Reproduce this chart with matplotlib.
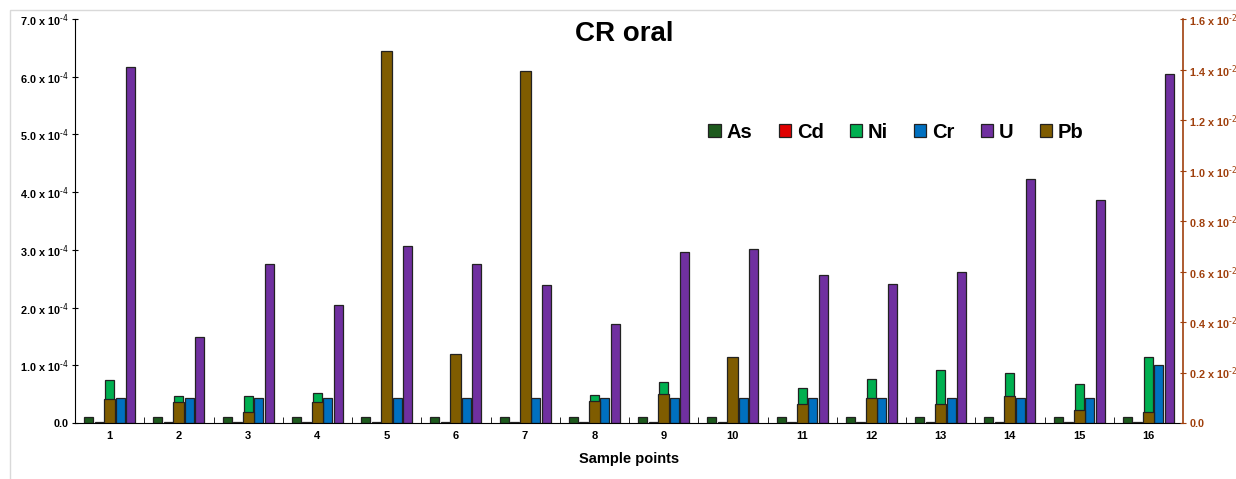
import numpy as np
import matplotlib
matplotlib.use("Agg")
import matplotlib.pyplot as plt
from matplotlib.patches import Rectangle

plt.rcParams['font.family'] = ['Liberation Sans', 'DejaVu Sans']
plt.rcParams['mathtext.default'] = 'regular'

#%%
# data (left axis for As..U, right axis for Pb)
samples = [str(i) for i in range(1, 17)]
As = [1.0e-5] * 16
Cd = [1.5e-6] * 16
Ni = [7.4e-5, 4.7e-5, 4.7e-5, 5.2e-5, 5.0e-5, 5.0e-5, 5.0e-5, 4.85e-5,
      7.1e-5, 5.0e-5, 6.0e-5, 7.6e-5, 9.2e-5, 8.7e-5, 6.8e-5, 1.14e-4]
Cr = [4.4e-5] * 15 + [1.0e-4]
U = [6.16e-4, 1.49e-4, 2.75e-4, 2.04e-4, 3.07e-4, 2.76e-4, 2.39e-4, 1.72e-4,
     2.97e-4, 3.02e-4, 2.57e-4, 2.41e-4, 2.62e-4, 4.23e-4, 3.87e-4, 6.05e-4]
Pb = [9.5e-4, 8.2e-4, 4.2e-4, 8.5e-4, 1.475e-2, 2.74e-3, 1.396e-2, 8.9e-4,
      1.15e-3, 2.61e-3, 7.5e-4, 1.0e-3, 7.5e-4, 1.06e-3, 5.2e-4, 4.4e-4]

left_ticks = [0, 1e-4, 2e-4, 3e-4, 4e-4, 5e-4, 6e-4, 7e-4]
left_labels = ['0.0'] + [r'%.1f x 10$^{\text{-4}}$' % v for v in range(1, 8)]
right_ticks = [0, 0.002, 0.004, 0.006, 0.008, 0.010, 0.012, 0.014, 0.016]
right_labels = ['0.0'] + [r'%.1f x 10$^{\text{-2}}$' % (v / 10) for v in range(2, 17, 2)]

colors = {'As': '#1d5a1d', 'Cd': '#e00000', 'Ni': '#00b050',
          'Cr': '#0070c0', 'U': '#7030a0', 'Pb': '#7f5c00'}
axis_brown = '#a0400d'

#%%
fig = plt.figure(figsize=(12.36, 4.79), dpi=100)
fig.patches.append(Rectangle((10 / 1236, -0.1), 1.1, 1.1 - 10 / 479,
                             transform=fig.transFigure, fill=False,
                             edgecolor='#d9d9d9', linewidth=1))
ax = fig.add_axes([75 / 1236, 1 - 423 / 479, 1108 / 1236, 404 / 479])
ax2 = ax.twinx()

x = np.arange(1, 17)
pitch = 0.151
w = 0.13
prim = [('As', As), ('Cd', Cd), ('Ni', Ni), ('Cr', Cr), ('U', U)]
handles = {}
for i, (name, vals) in enumerate(prim):
    handles[name] = ax.bar(x + (i - 2) * pitch, vals, w, color=colors[name],
                           edgecolor='#222222', linewidth=0.9, label=name)
handles['Pb'] = ax2.bar(x, Pb, 0.16, color=colors['Pb'], edgecolor='#222222',
                        linewidth=0.9, label='Pb')

ax.set_xlim(0.5, 16.5)
ax.set_ylim(0, 7e-4)
ax2.set_ylim(0, 0.016)

ax.set_yticks(left_ticks)
ax.set_yticklabels(left_labels, fontsize=7.8, fontweight='bold')
ax2.set_yticks(right_ticks)
ax2.set_yticklabels(right_labels, fontsize=7.8, fontweight='bold', color=axis_brown)

ax.set_xticks(x)
ax.set_xticklabels(samples, fontsize=8, fontweight='bold')
ax.tick_params(axis='x', which='major', length=0, pad=6)
ax.set_xticks(np.arange(1.5, 16.5, 1), minor=True)
ax.tick_params(axis='x', which='minor', direction='in', length=4)
ax.tick_params(axis='y', direction='inout', length=5, pad=2)
ax2.tick_params(axis='y', direction='inout', length=5, pad=2, color=axis_brown)

for a in (ax, ax2):
    a.spines['top'].set_visible(False)
ax.spines['right'].set_visible(False)
ax2.spines['left'].set_visible(False)
ax2.spines['bottom'].set_visible(False)
ax2.spines['right'].set_color(axis_brown)
ax2.spines['right'].set_linewidth(1.2)

ax.set_xlabel('Sample points', fontsize=10.5, fontweight='bold', labelpad=8)
ax.text(0.496, 0.963, 'CR oral', transform=ax.transAxes, ha='center',
        va='center', fontsize=20, fontweight='bold')

order = ['As', 'Cd', 'Ni', 'Cr', 'U', 'Pb']
leg = ax2.legend([handles[n] for n in order], order, loc='center',
                 bbox_to_anchor=(0.741, 0.72), ncol=6, frameon=False,
                 handlelength=0.6, handleheight=0.6, handletextpad=0.3,
                 columnspacing=1.3, prop={'weight': 'bold', 'size': 14.5})

fig.savefig('out.png', dpi=100)
